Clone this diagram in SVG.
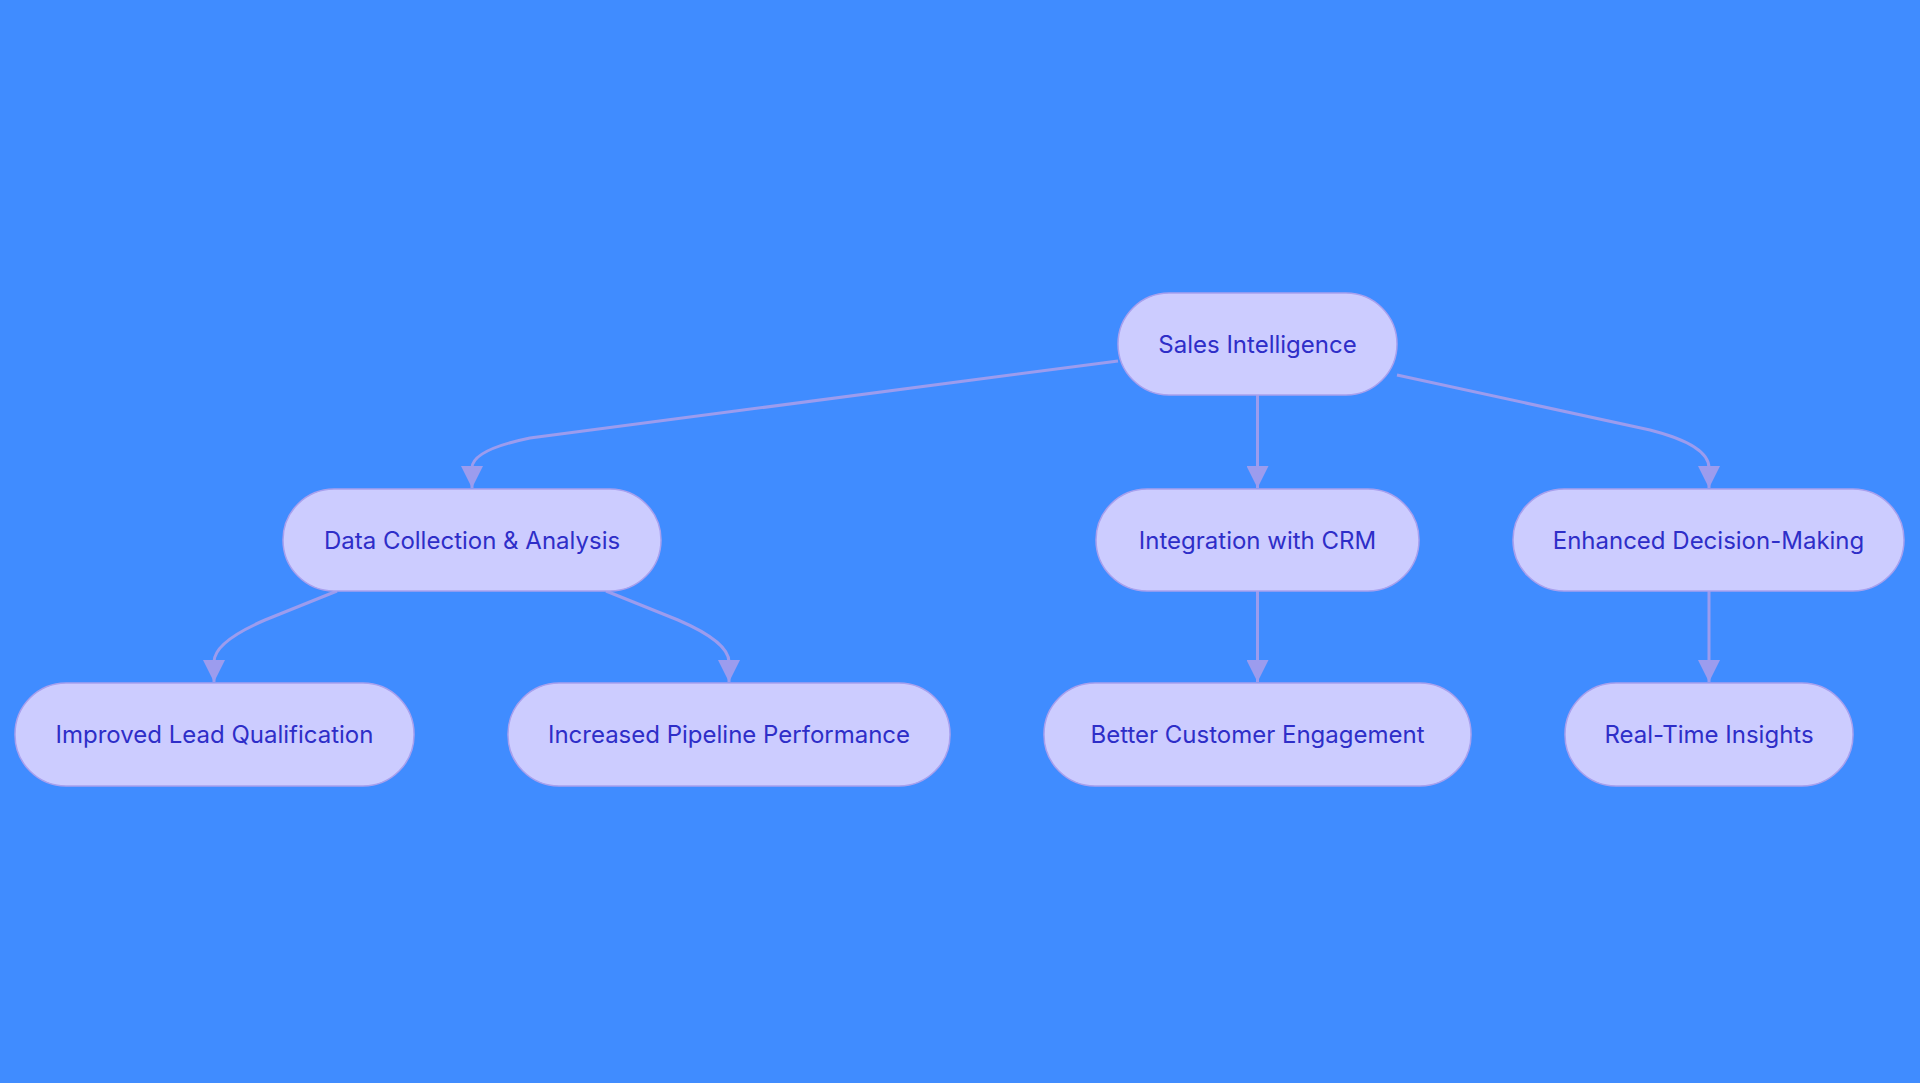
<svg xmlns="http://www.w3.org/2000/svg" width="1920" height="1083" viewBox="0 0 1920 1083">
<defs>
<style>
.n{fill:#CCCCFF;stroke:#A8A0EE;stroke-width:1.5}
.t{font-family:Inter,"Liberation Sans",sans-serif;font-size:24px;fill:#2E2EC8;text-anchor:middle;dominant-baseline:central}
.e{fill:none;stroke:#9C9CEE;stroke-width:3}
</style>
<marker id="a" markerUnits="userSpaceOnUse" markerWidth="22" markerHeight="22" viewBox="0 0 10 10" refX="10" refY="5" orient="auto"><path d="M0,0L10,5L0,10z" fill="#9C9CEE"/></marker>
</defs>
<rect width="1920" height="1083" fill="#408CFF"/>
<g id="edges">
<path class="e" marker-end="url(#a)" d="M1118,361 L530,438 Q472,450 472,468 L472,488"/>
<path class="e" marker-end="url(#a)" d="M1257.5,395 L1257.5,488"/>
<path class="e" marker-end="url(#a)" d="M1397,375 L1650,430 Q1709,445 1709,468 L1709,488"/>
<path class="e" marker-end="url(#a)" d="M337,591 L265,620 Q214,642 214,662 L214,682"/>
<path class="e" marker-end="url(#a)" d="M606,591 L678,620 Q729,642 729,662 L729,682"/>
<path class="e" marker-end="url(#a)" d="M1257.5,591 L1257.5,682"/>
<path class="e" marker-end="url(#a)" d="M1709,591 L1709,682"/>
</g>
<g id="n1"><rect class="n" x="1118" y="293" width="279" height="102" rx="51"/><text class="t" x="1257.5" y="344">Sales Intelligence</text></g>
<g id="n2"><rect class="n" x="283" y="489" width="378" height="102" rx="51"/><text class="t" x="472" y="540">Data Collection &amp; Analysis</text></g>
<g id="n3"><rect class="n" x="1096" y="489" width="323" height="102" rx="51"/><text class="t" x="1257.5" y="540">Integration with CRM</text></g>
<g id="n4"><rect class="n" x="1513" y="489" width="391" height="102" rx="51"/><text class="t" x="1708.5" y="540">Enhanced Decision-Making</text></g>
<g id="n5"><rect class="n" x="15" y="683" width="399" height="103" rx="51"/><text class="t" x="214.5" y="734.5">Improved Lead Qualification</text></g>
<g id="n6"><rect class="n" x="508" y="683" width="442" height="103" rx="51"/><text class="t" x="729" y="734.5">Increased Pipeline Performance</text></g>
<g id="n7"><rect class="n" x="1044" y="683" width="427" height="103" rx="51"/><text class="t" x="1257.5" y="734.5">Better Customer Engagement</text></g>
<g id="n8"><rect class="n" x="1565" y="683" width="288" height="103" rx="51"/><text class="t" x="1709" y="734.5">Real-Time Insights</text></g>
</svg>
